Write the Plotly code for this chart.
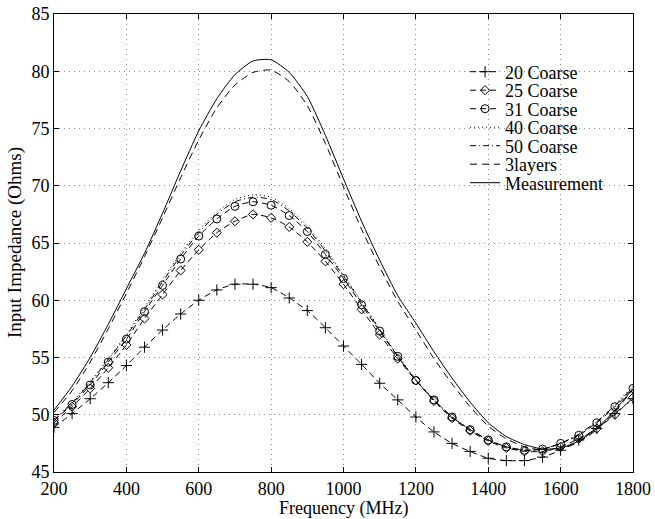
import plotly.graph_objects as go

# Frequency grid (MHz), 50 MHz steps
freq = list(range(200, 1801, 50))

coarse20 = [48.9, 50.1, 51.4, 52.8, 54.3, 55.9, 57.4, 58.8, 60.0, 60.9, 61.4, 61.4, 61.1,
            60.2, 59.1, 57.6, 56.0, 54.4, 52.75, 51.3, 49.8, 48.5, 47.5, 46.8, 46.2, 46.0,
            46.0, 46.3, 46.9, 47.8, 48.8, 50.1, 51.4]
coarse25 = [49.3, 50.7, 52.3, 54.1, 56.1, 58.4, 60.5, 62.6, 64.4, 65.9, 66.9, 67.5, 67.2,
            66.4, 65.1, 63.4, 61.4, 59.2, 57.0, 54.9, 53.0, 51.2, 49.7, 48.6, 47.7, 47.1,
            46.8, 46.8, 47.2, 47.9, 48.8, 50.0, 51.5]
coarse31 = [49.5, 50.9, 52.6, 54.6, 56.6, 59.0, 61.3, 63.6, 65.6, 67.1, 68.2, 68.6, 68.3,
            67.4, 66.0, 64.0, 61.9, 59.6, 57.3, 55.1, 53.0, 51.3, 49.8, 48.7, 47.8, 47.2,
            46.9, 47.0, 47.5, 48.2, 49.3, 50.7, 52.3]
coarse40 = [49.6, 51.1, 52.9, 54.9, 57.0, 59.4, 61.8, 64.1, 66.1, 67.7, 68.8, 69.2, 69.0,
            68.0, 66.5, 64.5, 62.2, 59.9, 57.5, 55.2, 53.1, 51.3, 49.8, 48.7, 47.8, 47.2,
            46.9, 47.0, 47.5, 48.3, 49.4, 50.9, 52.5]
coarse50 = [49.5, 51.0, 52.8, 54.8, 56.9, 59.2, 61.6, 63.9, 65.9, 67.5, 68.6, 69.0, 68.8,
            67.8, 66.3, 64.3, 62.1, 59.8, 57.4, 55.1, 53.0, 51.3, 49.8, 48.7, 47.8, 47.2,
            46.9, 47.0, 47.5, 48.3, 49.4, 50.8, 52.4]
layers3 = [50.2, 52.1, 54.6, 57.5, 60.6, 63.8, 67.2, 70.7, 74.0, 76.8, 78.8, 79.9, 80.1,
           79.1, 77.0, 73.7, 69.9, 66.2, 62.9, 59.9, 57.4, 54.9, 52.7, 50.7, 49.0, 47.9,
           47.2, 46.9, 47.0, 47.6, 48.7, 50.3, 52.2]
measurement = [50.4, 52.5, 55.0, 57.9, 61.0, 64.1, 67.6, 71.3, 74.8, 77.6, 79.7, 80.9, 81.0,
               79.9, 77.8, 74.4, 70.6, 66.9, 63.5, 60.4, 58.0, 55.5, 53.2, 51.1, 49.3, 48.1,
               47.4, 47.0, 47.1, 47.7, 48.8, 50.4, 52.3]

x_ticks = [200, 400, 600, 800, 1000, 1200, 1400, 1600, 1800]
y_ticks = [45, 50, 55, 60, 65, 70, 75, 80, 85]

FONT = "Liberation Serif, Times New Roman, serif"

# figure fills the whole window (body margin removed in post_script)
W, H = 655, 519
L, R, T, B = 54, 22, 14, 47
PW, PH = W - L - R, H - T - B
BOTTOM = H - B  # plot bottom in px

fig = go.Figure()

series = [
    ("20 Coarse", coarse20, "lines+markers", "6px,4px", dict(symbol="cross-thin-open", size=8,
                                                           line=dict(color="black", width=1))),
    ("25 Coarse", coarse25, "lines+markers", "6px,4px", dict(symbol="diamond-open", size=7,
                                                           line=dict(color="black", width=1))),
    ("31 Coarse", coarse31, "lines+markers", "6px,4px", dict(symbol="circle-open", size=8,
                                                           line=dict(color="black", width=1))),
    ("40 Coarse", coarse40, "lines", "1px,3px", None),
    ("50 Coarse", coarse50, "lines", "6px,3px,1px,3px", None),
    ("3layers", layers3, "lines", "7px,5px", None),
    ("Measurement", measurement, "lines", "solid", None),
]

# legend rows (px from top), MATLAB packs them tightly
legend_rows = [72, 90.5, 109, 127.5, 146, 164.5, 183]

legends = {}
for i, (name, vals, mode, dash, marker) in enumerate(series):
    kw = dict(marker=dict(color="black", **marker)) if marker else {}
    lg = "legend" if i == 0 else f"legend{i + 1}"
    fig.add_trace(go.Scatter(
        x=freq, y=vals, mode=mode, name=name, legend=lg, showlegend=True,
        line=dict(color="black", width=1, dash=dash, shape="spline", smoothing=0.6),
        **kw,
    ))
    legends[lg] = dict(
        x=0.71, y=(BOTTOM - legend_rows[i]) / PH, xanchor="left", yanchor="middle",
        bgcolor="rgba(0,0,0,0)", borderwidth=0, itemwidth=30,
        font=dict(family=FONT, size=18, color="black"),
    )

axis_common = dict(
    showline=True, linecolor="black", linewidth=1, mirror="ticks",
    ticks="inside", ticklen=5, tickcolor="black",
    showgrid=True, gridcolor="#8c8c8c", gridwidth=1, griddash="1px,4px",
    zeroline=False, automargin=False, ticklabeloverflow="allow",
    tickfont=dict(family=FONT, size=18, color="black"),
)

fig.update_xaxes(range=[200, 1800], tickvals=x_ticks, **axis_common)
fig.update_yaxes(range=[45, 85], tickvals=y_ticks, **axis_common)

fig.add_annotation(
    text="Frequency (MHz)", xref="paper", yref="paper",
    x=0.5, y=-(508 - BOTTOM) / PH, xanchor="center", yanchor="middle",
    showarrow=False, font=dict(family=FONT, size=18, color="black"),
)
fig.add_annotation(
    text="Input Impedance (Ohms)", xref="paper", yref="paper",
    x=-(L - 15) / PW, y=0.5, xanchor="center", yanchor="middle", textangle=-90,
    showarrow=False, font=dict(family=FONT, size=19, color="black"),
)

fig.update_layout(
    width=W, height=H,
    margin=dict(l=L, r=R, t=T, b=B),
    plot_bgcolor="white", paper_bgcolor="white",
    font=dict(family=FONT, size=18, color="black"),
    showlegend=True,
    **legends,
)

fig.write_html(
    "out.html",
    config={"displayModeBar": False},
    post_script="document.body.style.margin = '0';",
)
